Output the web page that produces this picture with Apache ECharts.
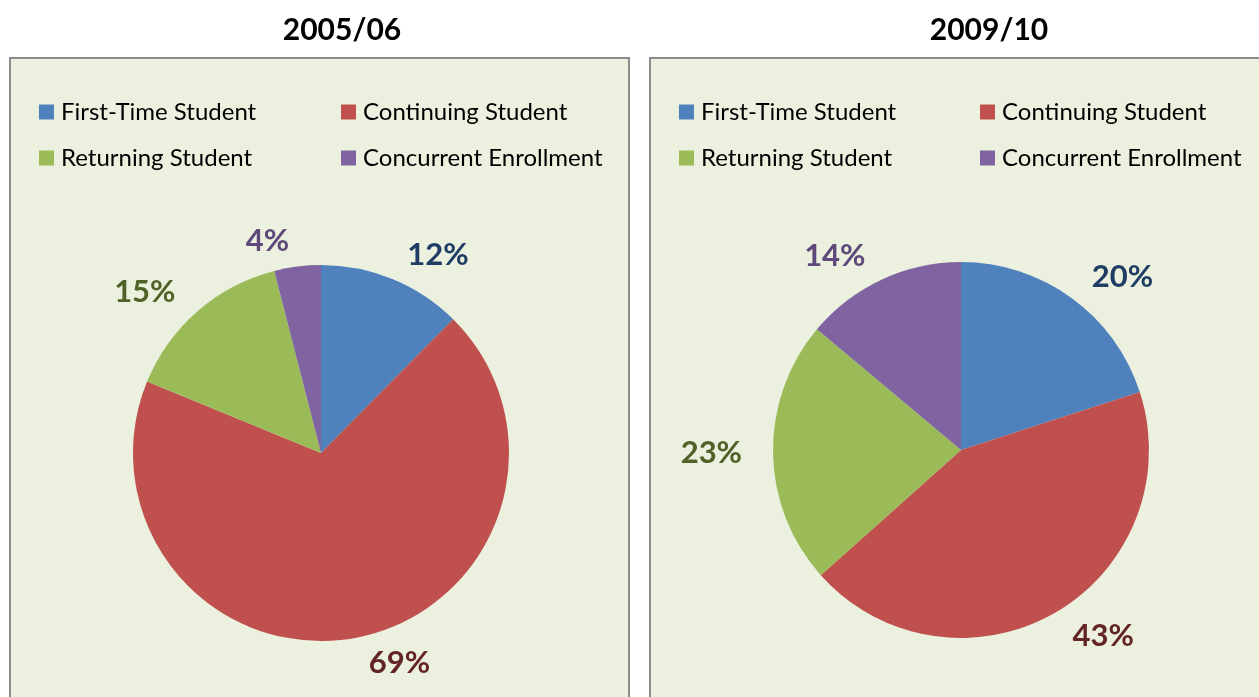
<!DOCTYPE html>
<html>
<head>
<meta charset="utf-8">
<script src="https://cdn.jsdelivr.net/npm/echarts@6/dist/echarts.min.js"></script>
<style>
	html, body { margin: 0; padding: 0; background: #fff; }
	#main { width: 1259px; height: 697px; }
</style>
</head>
<body>
<div id="main"></div>
<script>
// categories and values
var categories = ['First-Time Student', 'Continuing Student', 'Returning Student', 'Concurrent Enrollment'];
var titles = ['2005/06', '2009/10'];
var values0506 = [12.4, 68.8, 14.8, 4.0];
var values0910 = [20.0, 43.4, 22.7, 13.9];

var sliceColors = ['#4F81BD', '#C0504D', '#9BBB59', '#8064A2'];
var labelColors = ['#1F3D64', '#632523', '#4F6228', '#5F497A'];

function pieData(values) {
	return values.map(function(v, i) {
		return {
			name: categories[i],
			value: v,
			itemStyle: { color: sliceColors[i] },
			label: { color: labelColors[i] }
		};
	});
}

function pieSeries(values, center) {
	return {
		type: 'pie',
		center: center,
		radius: 188,
		startAngle: 90,
		clockwise: true,
		animation: false,
		silent: true,
		label: {
			show: true,
			position: 'outside',
			fontFamily: 'Lato',
			fontWeight: 'bold',
			fontSize: 31,
			formatter: function(p) { return Math.round(p.value) + '%'; }
		},
		labelLine: { show: false, length: 26, length2: 0 },
		itemStyle: { borderWidth: 0 },
		data: pieData(values)
	};
}

function legendCol(names, left) {
	return {
		orient: 'vertical',
		left: left,
		top: 100,
		padding: 0,
		itemWidth: 15,
		itemHeight: 15,
		itemGap: 22,
		icon: 'rect',
		selectedMode: false,
		textStyle: { fontFamily: 'Lato', fontSize: 24, color: '#000', lineHeight: 24, padding: [0, 0, 0, 2] },
		data: names
	};
}

var panel = { fill: '#EBF1DE', stroke: '#8C8C8C', lineWidth: 2 };

var option = {
	backgroundColor: '#fff',
	title: [
		{ text: titles[0], left: 337, top: 10, textAlign: 'center',
			textStyle: { fontFamily: 'Lato', fontWeight: 'bold', fontSize: 30, color: '#000' } },
		{ text: titles[1], left: 984, top: 10, textAlign: 'center',
			textStyle: { fontFamily: 'Lato', fontWeight: 'bold', fontSize: 30, color: '#000' } }
	],
	graphic: [
		{ type: 'rect', z: -10, shape: { x: 10, y: 58, width: 619, height: 660 }, style: panel },
		{ type: 'rect', z: -10, shape: { x: 650, y: 58, width: 640, height: 660 }, style: panel }
	],
	legend: [
		legendCol([categories[0], categories[2]], 39),
		legendCol([categories[1], categories[3]], 341),
		legendCol([categories[0], categories[2]], 679),
		legendCol([categories[1], categories[3]], 980)
	],
	series: [
		pieSeries(values0506, [321, 453]),
		pieSeries(values0910, [961, 450])
	]
};

var myChart = echarts.init(document.getElementById('main'));
myChart.setOption(option);
</script>
</body>
</html>
